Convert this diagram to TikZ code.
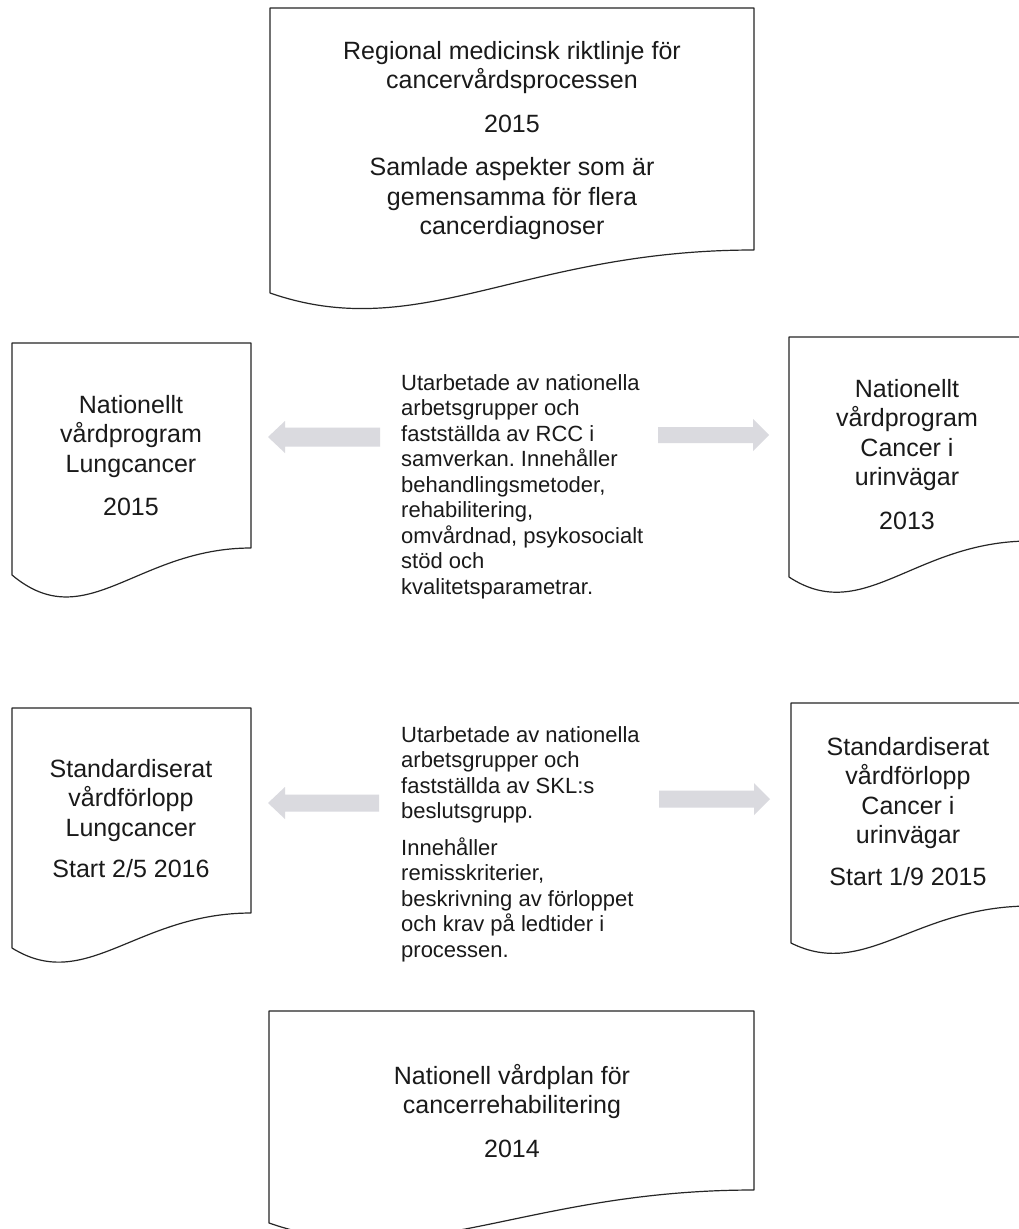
\documentclass[tikz,border=0pt]{standalone}
\usepackage{fontspec}
\setmainfont{Liberation Sans}
\frenchspacing
\definecolor{linec}{HTML}{262626}
\definecolor{textc}{HTML}{1A1A1A}
\definecolor{arrowc}{HTML}{DADADF}
\newcommand{\docshape}[6]{\draw[doc] (#1,#2) -- (#3,#2) -- (#3,#5) .. controls ({#1+0.52*(#3-#1)},#5) and ({#1+0.31*(#3-#1)},{#4+#6}) .. (#1,#4) -- cycle;}
\newcommand{\blockarr}[6]{\fill[blockarrow] (#1,{#4-#5}) -- (#2,{#4-#5}) -- (#2,{#4-#6}) -- (#3,#4) -- (#2,{#4+#6}) -- (#2,{#4+#5}) -- (#1,{#4+#5}) -- cycle;}
\begin{document}
\begin{tikzpicture}[x=1pt,y=-1pt,
  doc/.style={draw=linec, line width=1.2pt, fill=white, line join=round},
  boxtext/.style={align=center, inner sep=0pt, anchor=north, text=textc, font=\fontsize{25}{29.5}\selectfont},
  midtext/.style={align=left, inner sep=0pt, anchor=north west, text=textc, font=\fontsize{22}{25.5}\selectfont},
  blockarrow/.style={fill=arrowc, draw=none}]
\useasboundingbox (0,0) rectangle (1019,1229);
\clip (0,0) rectangle (1019,1229);
\fill[white] (0,0) rectangle (1019,1229);
% document shapes
\docshape{270}{8}{754}{293}{250}{52}
\docshape{12}{343}{251}{575}{548}{62}
\docshape{789}{337}{1030}{577}{541}{49}
\docshape{12}{708}{251}{948}{913}{46}
\docshape{791}{703}{1030}{943}{906}{37}
\docshape{269}{1011}{754}{1223}{1190}{52}
% block arrows
\blockarr{380}{285}{268}{437}{9.5}{16}
\blockarr{658}{753}{769}{435}{8}{16}
\blockarr{379}{285}{268}{803}{8.5}{16}
\blockarr{659}{754}{770}{799}{8.5}{16}
% texts
\node[boxtext] (reg) at (512,41) {Regional medicinsk riktlinje för\\cancervårdsprocessen\\[14pt]2015\\[14pt]Samlade aspekter som är\\gemensamma för flera\\cancerdiagnoser};
\node[boxtext] (vpl) at (131,395) {Nationellt\\vårdprogram\\Lungcancer\\[14pt]2015};
\node[boxtext] (vpu) at (907,379) {Nationellt\\vårdprogram\\Cancer i\\urinvägar\\[14pt]2013};
\node[boxtext] (svl) at (131,759) {Standardiserat\\vårdförlopp\\Lungcancer\\[12pt]Start 2/5 2016};
\node[boxtext] (svu) at (908,737) {Standardiserat\\vårdförlopp\\Cancer i\\urinvägar\\[12pt]Start 1/9 2015};
\node[boxtext] (reh) at (512,1064) {Nationell vårdplan för\\cancerrehabilitering\\[14pt]2014};
\node[midtext] (m1) at (401,374) {Utarbetade av nationella\\arbetsgrupper och\\fastställda av RCC i\\samverkan. Innehåller\\behandlingsmetoder,\\rehabilitering,\\omvårdnad, psykosocialt\\stöd och\\kvalitetsparametrar.};
\node[midtext] (m2) at (401,726) {Utarbetade av nationella\\arbetsgrupper och\\fastställda av SKL:s\\beslutsgrupp.\\[11pt]Innehåller\\remisskriterier,\\beskrivning av förloppet\\och krav på ledtider i\\processen.};
\end{tikzpicture}
\end{document}
